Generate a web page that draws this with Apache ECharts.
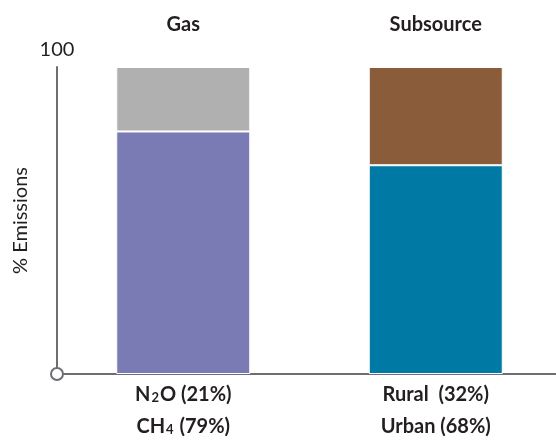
<!DOCTYPE html>
<html><head><meta charset="utf-8">
<script src="https://cdn.jsdelivr.net/npm/echarts@6/dist/echarts.min.js"></script>
<style>html,body{margin:0;padding:0;background:#fff;overflow:hidden}#c{width:562px;height:443px}</style>
</head><body><div id="c"></div>
<script>
var categories = ['Gas', 'Subsource'];
var bottomLabels = ['N{sub|2}O (21%)\nCH{sub|4} (79%)', 'Rural  (32%)\nUrban (68%)'];
var lowerValues = [79, 68];
var upperValues = [21, 32];
var lowerColors = ['#7a7ab4', '#0079a5'];
var upperColors = ['#b0b0b0', '#8a5c3a'];
var yMax = 100;
var yTopLabel = '100';
var yTitle = '% Emissions';

var FONT = 'Lato';
var DARK = '#231f20';
var AXIS = '#6d6e71';
var chart = echarts.init(document.getElementById('c'), null, {renderer: 'canvas'});
var option = {
  animation: false,
  grid: {left: 57, right: 0, top: 67, bottom: 66, containLabel: false},
  xAxis: [{
    type: 'category', data: categories, position: 'bottom',
    axisLine: {lineStyle: {color: AXIS, width: 2}},
    axisTick: {show: false},
    axisLabel: {
      margin: 5,
      formatter: function (v, i) { return bottomLabels[i]; },
      color: DARK, fontFamily: FONT, fontWeight: 'bold', fontSize: 20, lineHeight: 32,
      rich: {sub: {fontSize: 13, fontWeight: 'bold', fontFamily: FONT, color: DARK, lineHeight: 13, verticalAlign: 'bottom', padding: [0, 1, 7, 1]}}
    }
  }, {
    type: 'category', data: categories, position: 'top',
    axisLine: {show: false}, axisTick: {show: false},
    axisLabel: {margin: 32, color: DARK, fontFamily: FONT, fontWeight: 'bold', fontSize: 20}
  }],
  yAxis: {
    type: 'value', min: 0, max: yMax,
    name: yTopLabel, nameLocation: 'end', nameGap: 7,
    nameTextStyle: {color: DARK, fontFamily: FONT, fontSize: 20, align: 'center'},
    axisLine: {show: true, lineStyle: {color: AXIS, width: 2}},
    axisTick: {show: false}, axisLabel: {show: false}, splitLine: {show: false}
  },
  series: [{
    type: 'bar', stack: 's', barWidth: 134,
    data: lowerValues.map(function (v, i) { return {value: v, itemStyle: {color: lowerColors[i]}}; }),
    itemStyle: {borderColor: '#fff', borderWidth: 1}
  }, {
    type: 'bar', stack: 's', barWidth: 134,
    data: upperValues.map(function (v, i) { return {value: v, itemStyle: {color: upperColors[i]}}; }),
    itemStyle: {borderColor: '#fff', borderWidth: 1}
  }]
};
chart.setOption(option);
var yZero = chart.convertToPixel({yAxisIndex: 0}, 0);
var yTop = chart.convertToPixel({yAxisIndex: 0}, yMax);
var gridLeft = 57;
chart.setOption({
  graphic: [{
    type: 'circle', shape: {cx: gridLeft, cy: yZero, r: 6},
    style: {fill: '#fff', stroke: AXIS, lineWidth: 2}, z: 100
  }, {
    type: 'text', x: 21, y: (yZero + yTop) / 2,
    rotation: Math.PI / 2,
    style: {text: yTitle, fill: DARK, font: '20px ' + FONT, textAlign: 'center', textVerticalAlign: 'middle'}
  }]
});
</script></body></html>
